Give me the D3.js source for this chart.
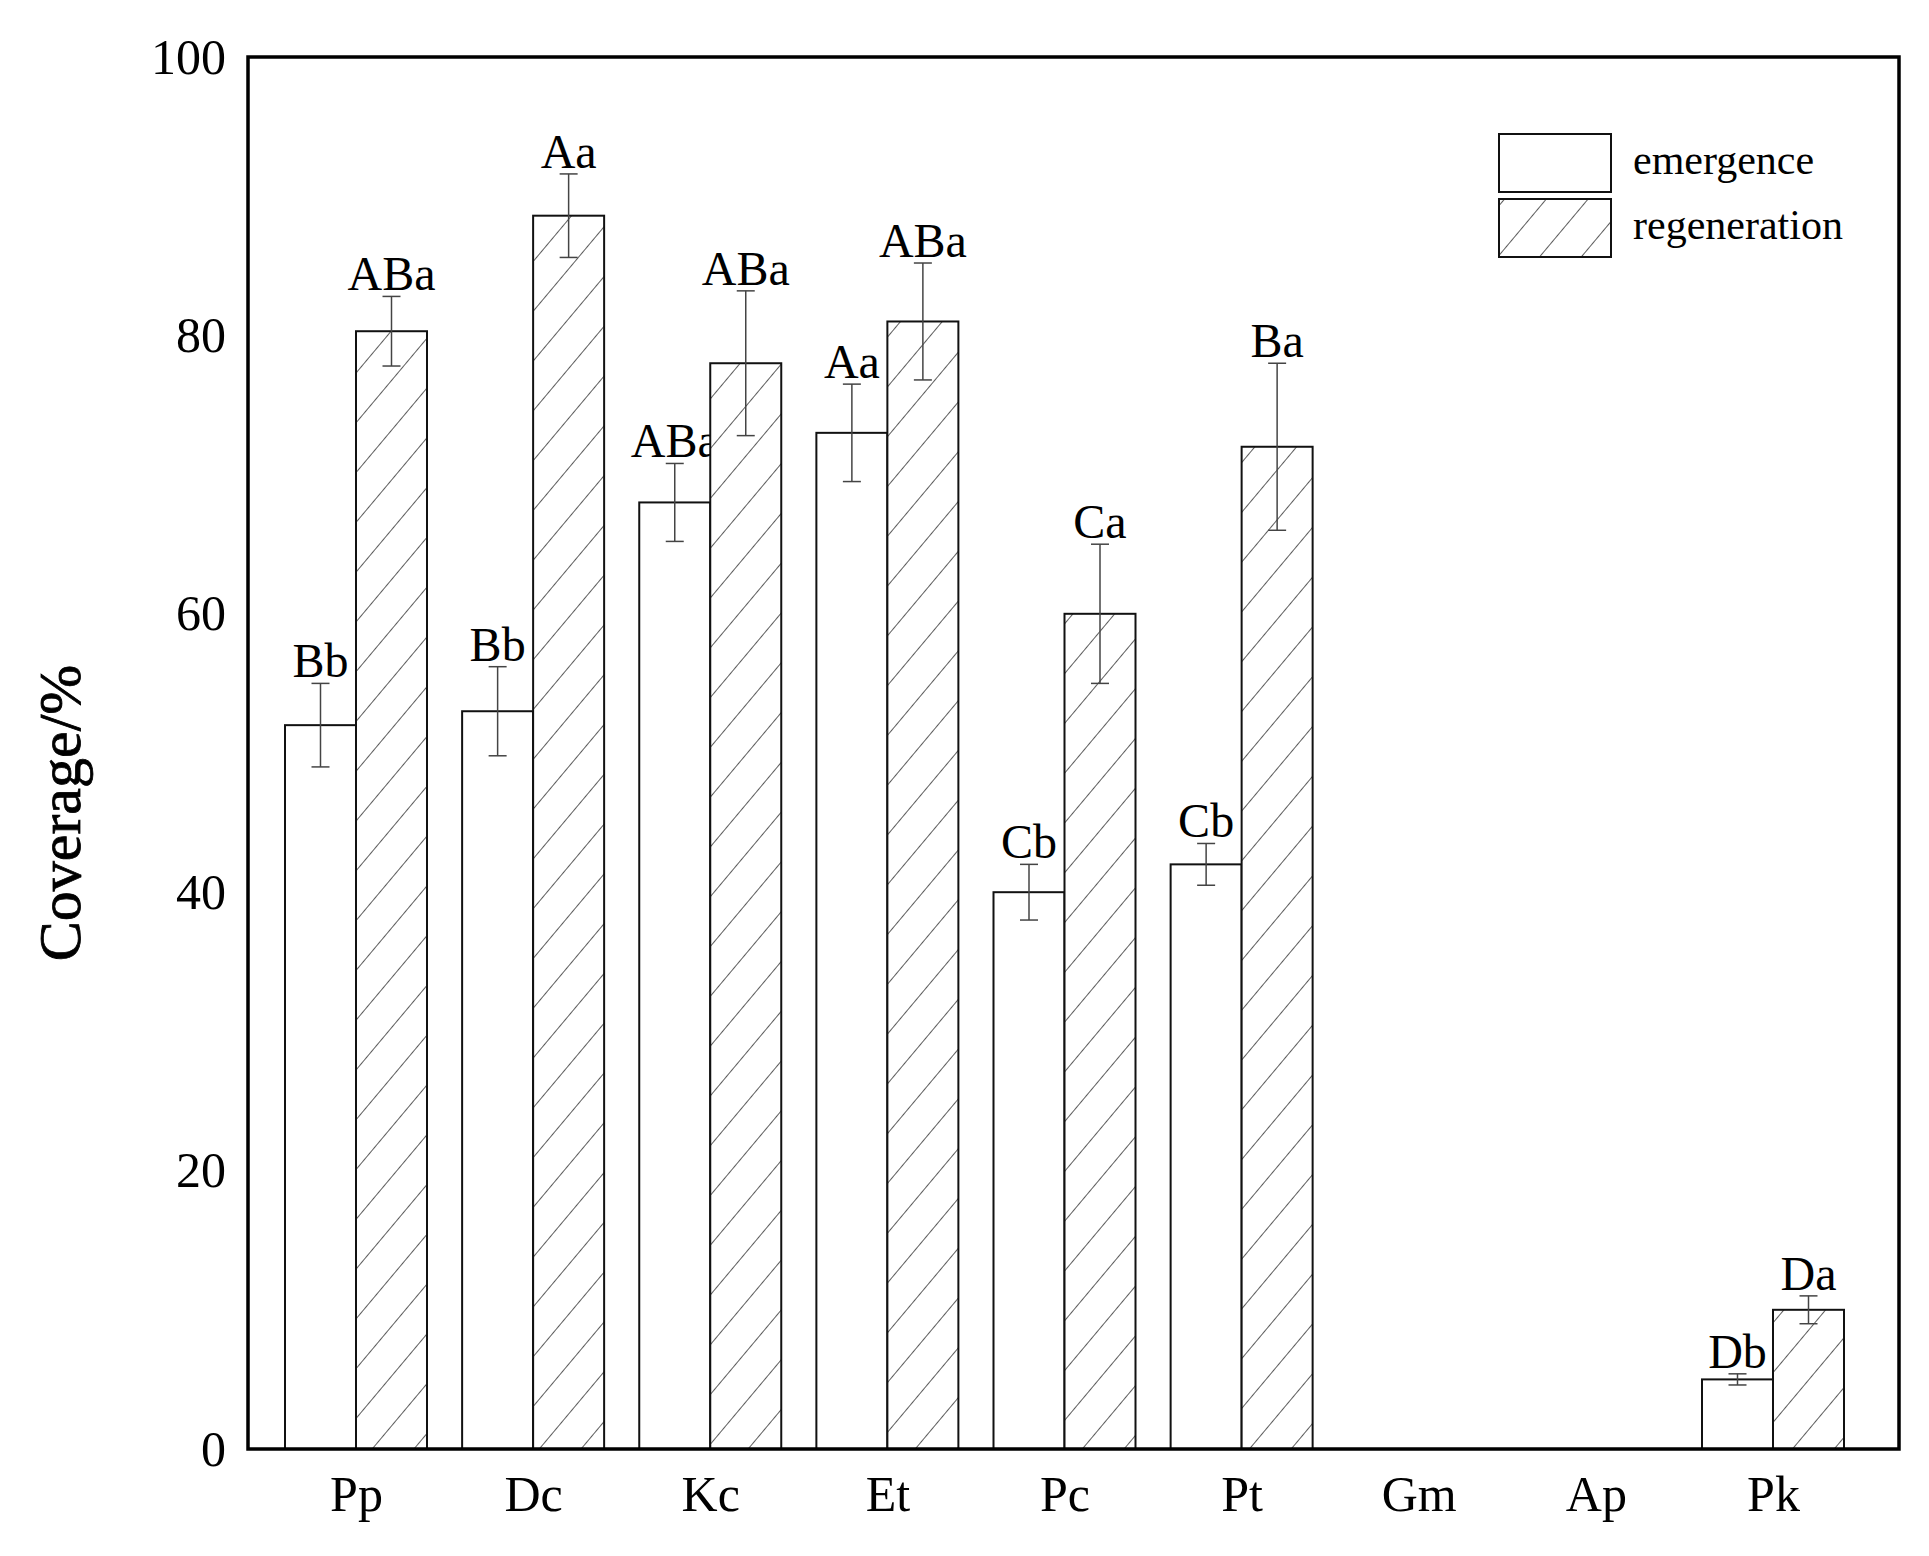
<!DOCTYPE html>
<html><head><meta charset="utf-8">
<script src="https://cdn.jsdelivr.net/npm/d3@7"></script>
<style>body{margin:0;background:#fff}</style></head>
<body><svg id="c" width="1929" height="1556"></svg>
<script>
const categories=["Pp","Dc","Kc","Et","Pc","Pt","Gm","Ap","Pk"];
const emergence=[52,53,68,73,40,42,0,0,5];
const emergenceErr=[3,3.2,2.8,3.5,2,1.5,0,0,0.4];
const emergenceLbl=["Bb","Bb","ABa","Aa","Cb","Cb","","","Db"];
const regeneration=[80.3,88.6,78,81,60,72,0,0,10];
const regenerationErr=[2.5,3,5.2,4.2,5,6,0,0,1];
const regenerationLbl=["ABa","Aa","ABa","ABa","Ca","Ba","","","Da"];
const yTicks=[0,20,40,60,80,100];

const svg=d3.select("#c");
const L=248,R=1899,T=57,B=1449;
const font="Liberation Serif, Times New Roman, serif";
const y=d3.scaleLinear().domain([0,100]).range([B,T]);
const x=d3.scaleLinear().domain([0,8]).range([356,1773]);
const bw=71;

const defs=svg.append("defs");
const p=defs.append("pattern").attr("id","hatch").attr("patternUnits","userSpaceOnUse")
 .attr("width",32).attr("height",32).attr("patternTransform","rotate(40)");
p.append("rect").attr("width",32).attr("height",32).attr("fill","#fff");
p.append("line").attr("x1",0).attr("y1",0).attr("x2",0).attr("y2",32).attr("stroke","#333").attr("stroke-width",1.6);

function series(vals,errs,lbls,off,fill){
  const g=svg.append("g");
  categories.forEach((c,i)=>{
    if(vals[i]<=0) return;
    const x0=x(i)+off;
    g.append("rect").attr("x",x0).attr("y",y(vals[i])).attr("width",bw).attr("height",B-y(vals[i]))
      .attr("fill",fill).attr("stroke","#111").attr("stroke-width",2);
    const cx=x0+bw/2, t=y(vals[i]+errs[i]), b=y(vals[i]-errs[i]);
    g.append("line").attr("x1",cx).attr("x2",cx).attr("y1",t).attr("y2",b).attr("stroke","#444").attr("stroke-width",1.5);
    [t,b].forEach(v=>g.append("line").attr("x1",cx-9).attr("x2",cx+9).attr("y1",v).attr("y2",v).attr("stroke","#444").attr("stroke-width",1.5));
    g.append("text").attr("x",cx).attr("y",t-6).attr("text-anchor","middle").attr("font-family",font)
      .attr("font-size",48).text(lbls[i]);
  });
}
series(emergence,emergenceErr,emergenceLbl,-bw,"#fff");
series(regeneration,regenerationErr,regenerationLbl,0,"url(#hatch)");

svg.append("rect").attr("x",L).attr("y",T).attr("width",R-L).attr("height",B-T).attr("fill","none").attr("stroke","#000").attr("stroke-width",3.5);

const ya=svg.append("g").attr("transform",`translate(${L},0)`).call(d3.axisLeft(y).tickValues(yTicks).tickSize(0).tickPadding(22));
ya.select(".domain").remove();
ya.selectAll("text").attr("font-family",font).attr("font-size",50).attr("fill","#000");
const xa=svg.append("g").attr("transform",`translate(0,${B})`).call(d3.axisBottom(x).tickValues(d3.range(9)).tickFormat(i=>categories[i]).tickSize(0).tickPadding(26));
xa.select(".domain").remove();
xa.selectAll("text").attr("font-family",font).attr("font-size",50).attr("fill","#000").attr("dy","0.71em");

svg.append("text").attr("transform",`translate(80,${(T+B)/2+60}) rotate(-90)`).attr("text-anchor","middle")
 .attr("font-family",font).attr("font-size",60).attr("stroke","#000").attr("stroke-width",0.8).text("Coverage/%");

const leg=[["emergence","#fff"],["regeneration","url(#hatch)"]];
leg.forEach((d,i)=>{
  const yy=134+i*65;
  svg.append("rect").attr("x",1499).attr("y",yy).attr("width",112).attr("height",58).attr("fill",d[1]).attr("stroke","#111").attr("stroke-width",2);
  svg.append("text").attr("x",1633).attr("y",yy+40).attr("font-family",font).attr("font-size",42).text(d[0]);
});
</script></body></html>
